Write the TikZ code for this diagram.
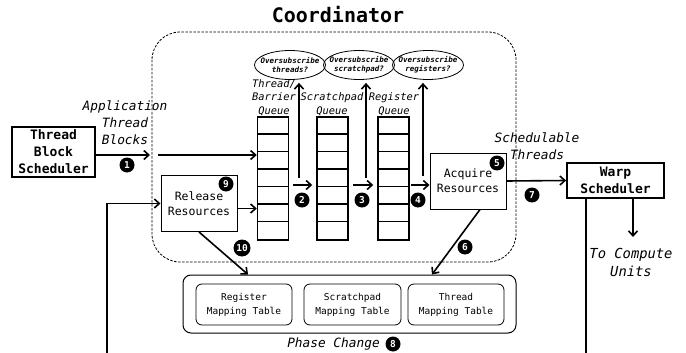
\documentclass[tikz,border=0pt]{standalone}
\usepackage{fontspec}
\setmainfont{DejaVu Sans Mono}
\usetikzlibrary{arrows.meta,shapes.geometric}

\begin{document}
\begin{tikzpicture}[
  x=1pt, y=-1pt,
  >={Straight Barb[length=5pt,width=9pt]},
  arr/.style={->,line width=1.6pt},
  blk/.style={draw,line width=1.8pt,font=\fontsize{13}{17}\selectfont\bfseries,align=center,inner sep=0pt},
  res/.style={draw,line width=1pt,font=\fontsize{11.5}{15}\selectfont,align=center,inner sep=0pt,minimum width=76pt,minimum height=56pt},
  que/.style={draw,line width=1.5pt,minimum width=31pt,minimum height=123pt,inner sep=0pt},
  ovs/.style={ellipse,draw,line width=0.8pt,minimum width=71pt,minimum height=29pt,inner xsep=-5pt,inner ysep=0pt,align=center,font=\fontsize{7.5}{9}\selectfont\itshape\bfseries},
  lbl/.style={font=\fontsize{12.8}{17}\selectfont\itshape,align=center},
  qlbl/.style={font=\fontsize{10.4}{13.5}\selectfont\itshape,align=center},
  mtab/.style={draw,rounded corners=6pt,line width=0.8pt,minimum width=96pt,minimum height=41pt,inner sep=0pt,align=center,font=\fontsize{9.5}{14}\selectfont},
  num/.style={circle,fill=black,text=white,inner sep=0pt,minimum size=15pt,font=\fontsize{9.5}{9.5}\selectfont\bfseries}
]

\useasboundingbox (0,0) rectangle (686,353);
\clip (0,0) rectangle (686,353);

% coordinator
\node [font=\fontsize{20}{20}\selectfont\bfseries] (title) at (338,15) {Coordinator};
\draw [dash pattern=on 2.5pt off 1.5pt,line width=0.8pt,rounded corners=28pt] (152,32) rectangle (516,262);

% schedulers and resource boxes
\node [blk,minimum width=83pt,minimum height=50pt] (tbs) at (53.5,152) {Thread\\Block\\Scheduler};
\node [blk,minimum width=97pt,minimum height=35pt] (warp) at (615.5,180.5) {Warp\\Scheduler};
\node [res] (rel) at (199,203.5) {Release\\Resources};
\node [res] (acq) at (468,181) {Acquire\\Resources};

% queues
\node [que] (tq) at (273,178.5) {};
\node [que] (sq) at (332.5,178.5) {};
\node [que] (rq) at (393.5,178.5) {};
\foreach \q in {tq,sq,rq}
  \foreach \k in {1,...,6}
    \draw [line width=1.5pt] (\q.north west) ++(0,\k*17.57) -- ++(31,0);

\node [qlbl] (tql) at (274,97.5) {Thread/\\Barrier\\Queue};
\node [qlbl] (sql) at (332,104) {Scratchpad\\Queue};
\node [qlbl] (rql) at (394,104) {Register\\Queue};

% oversubscription checks
\node [ovs] (ov1) at (290,65) {Oversubscribe\\threads?};
\node [ovs] (ov2) at (359,65) {Oversubscribe\\scratchpad?};
\node [ovs] (ov3) at (428,65) {Oversubscribe\\registers?};

% mapping tables
\node [draw,rounded corners=8pt,line width=1pt,minimum width=333pt,minimum height=58pt] (maps) at (349.5,304) {};
\node [mtab] (rmt) at (244,304.5) {Register\\Mapping Table};
\node [mtab,minimum width=97pt] (smt) at (352.5,304.5) {Scratchpad\\Mapping Table};
\node [mtab] (tmt) at (456,304.5) {Thread\\Mapping Table};

% labels
\node [lbl] (atb) at (125,123) {Application\\Thread\\Blocks};
\node [lbl] (sth) at (537,146.5) {Schedulable\\Threads};
\node [lbl,font=\fontsize{13.8}{18}\selectfont\itshape] (tcu) at (631,262) {To Compute\\Units};
\node [lbl] (phc) at (333.5,344) {Phase Change};

% connectors
\coordinate (in1) at (150,155);
\draw [arr] (tbs.east |- in1) -- (in1);
\draw [arr] ([xshift=8pt]in1) -- (in1 -| tq.west);

\coordinate (relout) at ([yshift=-5pt]rel.east);
\draw [arr] (relout) -- (relout -| tq.west);

\coordinate (q1o) at ([shift={(4pt,-6.5pt)}]tq.east);
\coordinate (q2o) at ([shift={(4pt,-6.5pt)}]sq.east);
\coordinate (q3o) at ([shift={(1.5pt,-6.5pt)}]rq.east);
\draw [arr,shorten >=4pt] (q1o) -- (q1o -| sq.west);
\draw [arr,shorten >=4pt] (q2o) -- (q2o -| rq.west);
\draw [arr] (q3o) -- (q3o -| acq.west);

\coordinate (up1) at (299,178);
\coordinate (up2) at (366,178);
\coordinate (up3) at (423,176);
\draw [arr,shorten >=3pt] (up1) -- (up1 |- ov1.south);
\draw [arr,shorten >=3pt] (up2) -- (up2 |- ov2.south);
\draw [arr,shorten >=3pt] (up3) -- (up3 |- ov3.south);

\draw [arr] (acq.east) -- (warp.west);
\coordinate (cu) at (633,237);
\draw [arr] (warp.south -| cu) -- (cu);

\draw [arr] ([xshift=12pt]acq.south) -- ([xshift=82.5pt]maps.north);
\draw [arr] (rel.south) -- ([xshift=-101.5pt]maps.north);

% phase change loop
\coordinate (pcR) at (586,370);
\coordinate (pcL) at (107,370);
\draw [arr] (warp.south -| pcR) -- (pcR) -- (pcL) -- (pcL |- rel.west) -- (rel.west);

% step numbers
\node [num] (n1) at (127,165) {1};
\node [num] (n2) at (302,200) {2};
\node [num] (n3) at (362,200) {3};
\node [num] (n4) at (418,200) {4};
\node [num] (n5) at (497,163) {5};
\node [num] (n6) at (465,247) {6};
\node [num] (n7) at (532,195) {7};
\node [num] (n8) at (393,344) {8};
\node [num] (n9) at (226,184) {9};
\node [num,minimum size=17pt] (n10) at (242,248) {10};

\end{tikzpicture}
\end{document}
